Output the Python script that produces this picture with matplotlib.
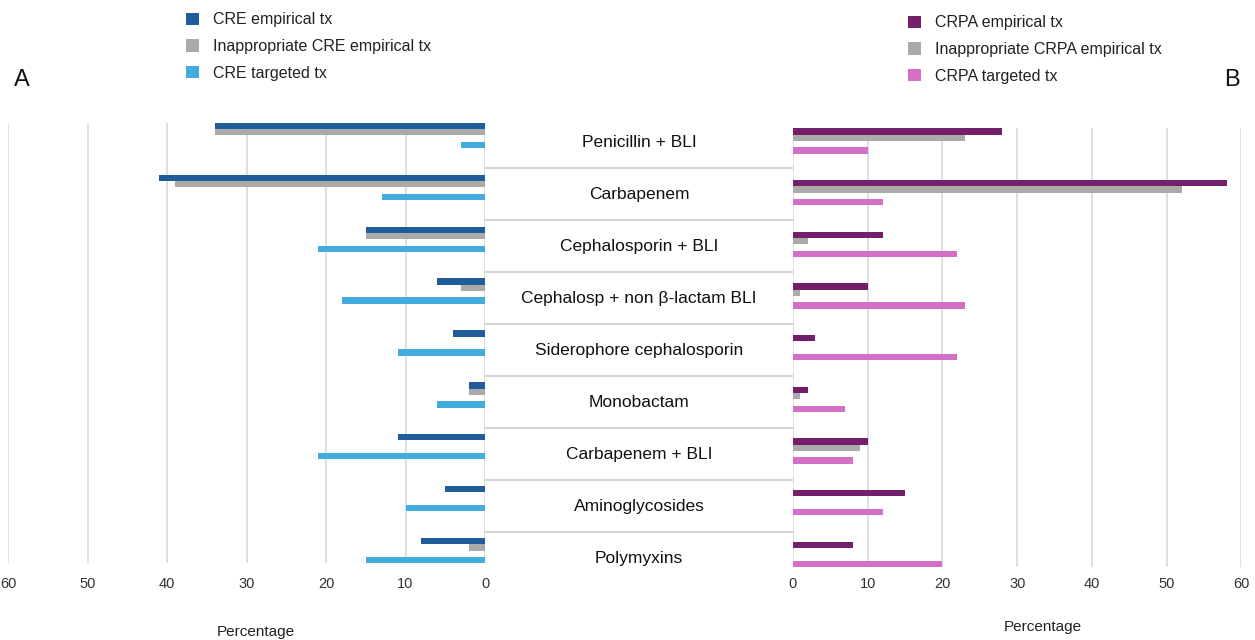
import matplotlib
matplotlib.use("Agg")
import matplotlib.pyplot as plt
import numpy as np
from matplotlib.patches import Patch

plt.rcParams["font.family"] = ["Liberation Sans", "DejaVu Sans"]

categories = [
    "Penicillin + BLI",
    "Carbapenem",
    "Cephalosporin + BLI",
    "Cephalosp + non \u03b2-lactam BLI",
    "Siderophore cephalosporin",
    "Monobactam",
    "Carbapenem + BLI",
    "Aminoglycosides",
    "Polymyxins",
]
cre_empirical = [34, 41, 15, 6, 4, 2, 11, 5, 8]
cre_inappropriate = [34, 39, 15, 3, 0, 2, 0, 0, 2]
cre_targeted = [3, 13, 21, 18, 11, 6, 21, 10, 15]
crpa_empirical = [28, 58, 12, 10, 3, 2, 10, 15, 8]
crpa_inappropriate = [23, 52, 2, 1, 0, 1, 9, 0, 0]
crpa_targeted = [10, 12, 22, 23, 22, 7, 8, 12, 20]
ticks = [0, 10, 20, 30, 40, 50, 60]

cre_labels = ["CRE empirical tx", "Inappropriate CRE empirical tx", "CRE targeted tx"]
crpa_labels = ["CRPA empirical tx", "Inappropriate CRPA empirical tx", "CRPA targeted tx"]
cre_colors = ["#1f5c99", "#aaaaaa", "#43acdf"]
crpa_colors = ["#731f6c", "#aaaaaa", "#d46fc8"]

W, H = 1255, 640
fig = plt.figure(figsize=(W / 100, H / 100), dpi=100)


def px_axes(x0, y0, x1, y1):
    return fig.add_axes([x0 / W, 1 - y1 / H, (x1 - x0) / W, (y1 - y0) / H])


y = np.arange(len(categories))
h = 0.122
offsets = [-0.183, -0.061, 0.183]


def draw_panel(ax, series, colors, invert, pad):
    for vals, off, c in zip(series, offsets, colors):
        ax.barh(y + off, vals, height=h, color=c, zorder=3)
    ax.set_ylim(len(categories) - 1 + 0.244, -0.244)
    ax.set_xlim((60, 0) if invert else (0, 60))
    ax.set_xticks(ticks)
    ax.set_yticks([])
    ax.grid(axis="x", color="#d9d9d9", linewidth=1.2, zorder=0)
    for s in ax.spines.values():
        s.set_visible(False)
    ax.tick_params(axis="x", length=0, pad=pad, labelsize=10.5, labelcolor="#333333")


ax_l = px_axes(8, 122.7, 485, 563.3)
draw_panel(ax_l, [cre_empirical, cre_inappropriate, cre_targeted], cre_colors, True, 10)

ax_r = px_axes(793, 128.3, 1241.5, 567)
draw_panel(ax_r, [crpa_empirical, crpa_inappropriate, crpa_targeted], crpa_colors, False, 7)

# centre column with category names
ax_c = px_axes(485, 116, 793, 599.6)
ax_c.set_xlim(0, 1)
ax_c.set_ylim(8.8, -0.5)
ax_c.axis("off")
for i, cat in enumerate(categories):
    ax_c.text(0.5, i, cat, ha="center", va="center", fontsize=12.5, color="#111111")
for i in range(len(categories) - 1):
    ax_c.axhline(i + 0.5, color="#cccccc", linewidth=1.2)

fig.text(256 / W, 1 - 632 / H, "Percentage", ha="center", va="center", fontsize=11, color="#222222")
fig.text(1043 / W, 1 - 627 / H, "Percentage", ha="center", va="center", fontsize=11, color="#222222")
fig.text(22 / W, 1 - 80 / H, "A", ha="center", va="center", fontsize=17, color="#111111")
fig.text(1232 / W, 1 - 80 / H, "B", ha="center", va="center", fontsize=17, color="#111111")

for labels, colors, anchor in (
    (cre_labels, cre_colors, (186, 46.5)),
    (crpa_labels, crpa_colors, (908, 49.5)),
):
    handles = [Patch(facecolor=c, edgecolor="none") for c in colors]
    fig.legend(
        handles, labels, loc="center left",
        bbox_to_anchor=(anchor[0] / W, 1 - anchor[1] / H),
        frameon=False, fontsize=11.5, handlelength=0.8, handleheight=0.8,
        handletextpad=0.9, labelspacing=0.73, borderpad=0, borderaxespad=0,
        labelcolor="#222222",
    )

fig.savefig("out.png", dpi=100)
